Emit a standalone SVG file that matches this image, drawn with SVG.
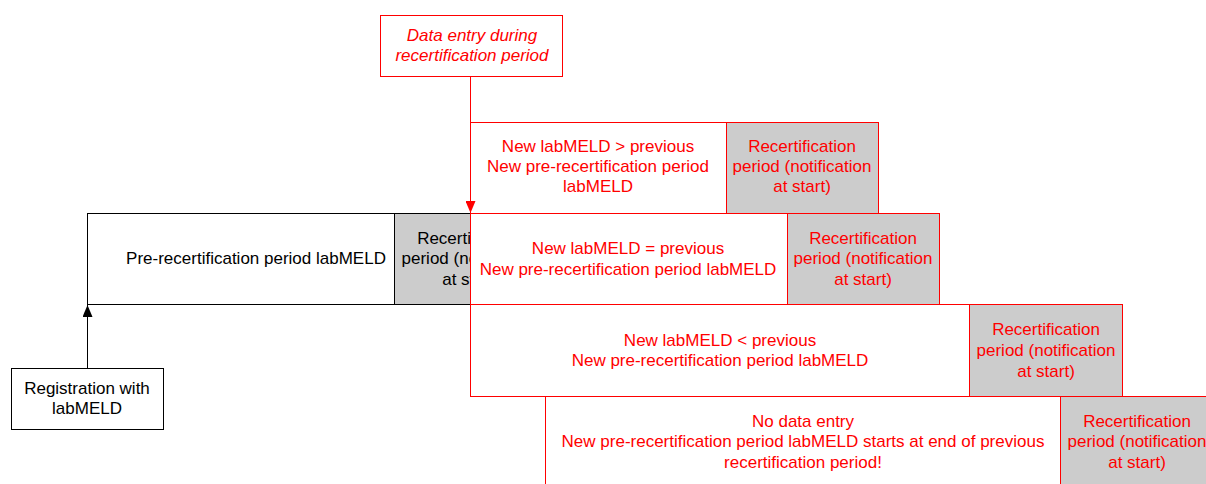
<svg xmlns="http://www.w3.org/2000/svg" width="1206" height="484" viewBox="0 0 1206 484">
<defs>
<style>
text{font-family:"Liberation Sans",Arial,sans-serif;font-size:17px;text-anchor:middle}
.r{fill:#FF0000}
.k{fill:#000}
.wr{fill:#fff;stroke:#FF0000;stroke-width:1}
.gr{fill:#CCCCCC;stroke:#FF0000;stroke-width:1}
.wk{fill:#fff;stroke:#000;stroke-width:1}
.gk{fill:#CCCCCC;stroke:#000;stroke-width:1}
</style>
<marker id="ar" markerWidth="12" markerHeight="10" refX="12" refY="5" orient="auto" markerUnits="userSpaceOnUse" viewBox="0 0 12 10">
<path d="M0,0 L12,5 L0,10 Z" fill="#FF0000"/>
</marker>
<marker id="ak" markerWidth="12" markerHeight="10" refX="12" refY="5" orient="auto" markerUnits="userSpaceOnUse" viewBox="0 0 12 10">
<path d="M0,0 L12,5 L0,10 Z" fill="#000"/>
</marker>
<clipPath id="clip0"><rect x="394" y="213" width="76" height="92"/></clipPath>
</defs>
<g id="prerecert">
<rect class="wk" x="87.5" y="213.5" width="307" height="91"/>
<text class="k" x="256" y="264">Pre-recertification period labMELD</text>
</g>
<g id="recert0">
<rect class="gk" x="394.5" y="213.5" width="154" height="91"/>
<g clip-path="url(#clip0)">
<text class="k" x="471" y="244">Recertification</text>
<text class="k" x="471" y="264">period (notification</text>
<text class="k" x="471" y="285">at start)</text>
</g>
</g>
<g id="dataentry">
<rect class="wr" x="380.5" y="15.5" width="182" height="61"/>
<text class="r" x="472" y="41" font-style="italic">Data entry during</text>
<text class="r" x="472" y="61" font-style="italic">recertification period</text>
</g>
<g id="case1">
<rect class="wr" x="470.5" y="122.5" width="256" height="91"/>
<text class="r" x="598" y="152">New labMELD &gt; previous</text>
<text class="r" x="598" y="172">New pre-recertification period</text>
<text class="r" x="598" y="192">labMELD</text>
<rect class="gr" x="726.5" y="122.5" width="152" height="91"/>
<text class="r" x="802" y="152">Recertification</text>
<text class="r" x="802" y="172">period (notification</text>
<text class="r" x="802" y="192">at start)</text>
</g>
<g id="case2">
<rect class="wr" x="470.5" y="213.5" width="317" height="91"/>
<text class="r" x="628" y="254">New labMELD = previous</text>
<text class="r" x="628" y="275">New pre-recertification period labMELD</text>
<rect class="gr" x="787.5" y="213.5" width="152" height="91"/>
<text class="r" x="863" y="244">Recertification</text>
<text class="r" x="863" y="264">period (notification</text>
<text class="r" x="863" y="285">at start)</text>
</g>
<g id="case3">
<rect class="wr" x="470.5" y="304.5" width="499" height="92"/>
<text class="r" x="720" y="346">New labMELD &lt; previous</text>
<text class="r" x="720" y="366">New pre-recertification period labMELD</text>
<rect class="gr" x="969.5" y="304.5" width="153" height="92"/>
<text class="r" x="1046" y="335">Recertification</text>
<text class="r" x="1046" y="356">period (notification</text>
<text class="r" x="1046" y="377">at start)</text>
</g>
<g id="case4">
<rect class="wr" x="545.5" y="396.5" width="515" height="100"/>
<text class="r" x="803" y="427">No data entry</text>
<text class="r" x="803" y="447">New pre-recertification period labMELD starts at end of previous</text>
<text class="r" x="803" y="468">recertification period!</text>
<rect class="gr" x="1060.5" y="396.5" width="160" height="100"/>
<text class="r" x="1137" y="427">Recertification</text>
<text class="r" x="1137" y="447">period (notification</text>
<text class="r" x="1137" y="468">at start)</text>
</g>
<g id="registration">
<rect class="wk" x="11.5" y="368.5" width="152" height="61"/>
<text class="k" x="87" y="394">Registration with</text>
<text class="k" x="87" y="414">labMELD</text>
</g>
<g id="connectors">
<line x1="470.5" y1="77" x2="470.5" y2="213" stroke="#FF0000" stroke-width="1" marker-end="url(#ar)"/>
<line x1="87.5" y1="368" x2="87.5" y2="305" stroke="#000" stroke-width="1" marker-end="url(#ak)"/>
</g>
</svg>
